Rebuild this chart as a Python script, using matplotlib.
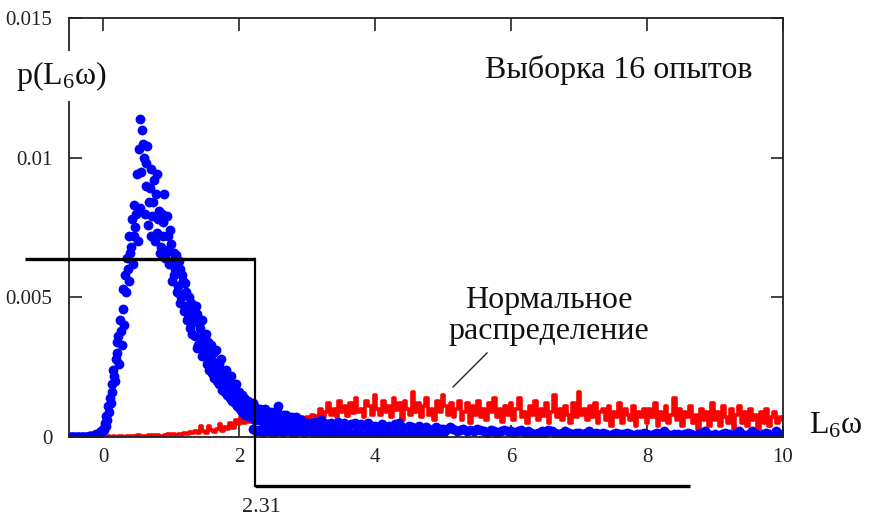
import numpy as np
import matplotlib
matplotlib.use('Agg')
import matplotlib.pyplot as plt

# ---------------- data (values in units of 1e-3) ----------------
blue_head_x0, blue_head_step = -0.5, 0.025
blue_head = [
    0, 0, 0, 0, 0, 0, 0, 0, 0, 0, 0, 0, 0.02, 0.03, 0.05, 0.07, 0.1, 0.12, 0.18, 0.22,
    0.3, 0.5, 0.75, 1.1, 1.4, 1.9, 2.4, 2.0, 3.0, 3.6, 4.2, 3.3, 5.3, 5.8, 6.4, 7.2, 6.6, 7.8, 8.3, 7.5,
    9.4, 10.3, 11.4, 11.0, 10.0, 9.0, 10.4, 8.4, 9.6, 7.9, 9.2, 8.7, 7.3, 8.1, 6.8, 7.7, 8.7, 6.6, 7.2, 6.2,
    6.9, 6.3, 5.8, 6.5, 5.4, 6.0, 5.0, 5.6, 4.7, 5.2, 4.4, 3.9, 4.8, 4.1, 3.6, 4.4, 3.3, 3.9, 2.9, 3.6,
    3.2, 2.6, 3.4, 2.8, 2.3, 3.0, 2.5, 2.0, 2.6, 2.2, 1.7, 2.3, 1.9, 1.5, 2.0, 1.6, 1.3, 1.8, 1.4, 1.1,
    1.6, 1.2, 0.9, 1.4, 1.0, 0.8, 1.2, 0.9, 0.7, 1.1, 0.8, 1.0, 0.6, 0.9, 0.7, 1.0, 0.6, 0.8, 0.7, 0.9,
    0.6, 0.8, 0.5, 1.1, 0.7, 0.6, 0.8, 0.5, 0.7, 0.6, 0.5, 0.7, 0.6, 0.5, 0.6, 0.4, 0.6, 0.5, 0.4, 0.5,
]
blue_head2_x0, blue_head2_step = -0.4875, 0.025
blue_head2 = [
    0, 0, 0, 0, 0, 0, 0, 0, 0, 0, 0, 0.01, 0.02, 0.03, 0.04, 0.06, 0.08, 0.1, 0.14, 0.2,
    0.25, 0.4, 0.6, 0.9, 1.2, 1.6, 2.2, 2.8, 3.4, 2.6, 3.8, 4.6, 4.0, 5.2, 6.0, 5.6, 6.8, 6.2, 7.2, 8.0,
    7.0, 8.2, 9.5, 10.5, 8.0, 9.8, 7.6, 8.9, 7.2, 8.4, 7.0, 9.4, 7.8, 6.6, 8.0, 7.2, 6.4, 7.9, 6.7, 7.4,
    5.6, 6.6, 6.0, 5.2, 6.3, 4.8, 5.8, 4.5, 5.5, 4.2, 5.0, 4.6, 3.7, 4.3, 4.7, 3.2, 4.1, 3.5, 4.2, 3.0,
    3.7, 2.9, 2.4, 3.3, 2.7, 2.1, 3.1, 2.4, 1.9, 2.8, 2.0, 1.6, 2.4, 1.8, 1.4, 2.2, 1.7, 1.2, 1.9, 1.5,
    1.0, 1.5, 1.3, 0.8, 1.1, 1.3, 0.7, 1.0, 1.2, 0.6, 0.9, 0.7, 1.0, 0.8, 0.5, 0.9, 0.7, 0.5, 0.8, 0.6,
    0.7, 0.5, 0.9, 0.6, 0.4, 0.7, 0.6, 0.8, 0.5, 0.7, 0.4, 0.6, 0.5, 0.7, 0.4, 0.5, 0.6, 0.4, 0.5, 0.4,
]
blue_tail_x0, blue_tail_step = 3.0, 0.05
blue_tail = [
    0.5, 0.45, 0.55, 0.4, 0.6, 0.5, 0.45, 0.5, 0.4, 0.55, 0.45, 0.5, 0.4, 0.45, 0.5, 0.35, 0.45, 0.4, 0.5, 0.4,
    0.4, 0.35, 0.45, 0.3, 0.4, 0.35, 0.45, 0.5, 0.35, 0.3, 0.4, 0.35, 0.3, 0.4, 0.3, 0.35, 0.25, 0.3, 0.35, 0.3,
    0.3, 0.25, 0.35, 0.3, 0.2, 0.25, 0.3, 0.2, 0.25, 0.2, 0.3, 0.25, 0.2, 0.15, 0.25, 0.2, 0.15, 0.2, 0.25, 0.2,
    0.2, 0.15, 0.2, 0.25, 0.15, 0.2, 0.15, 0.1, 0.15, 0.2, 0.15, 0.25, 0.2, 0.15, 0.1, 0.15, 0.2, 0.15, 0.1, 0.15,
    0.15, 0.1, 0.15, 0.2, 0.1, 0.15, 0.1, 0.15, 0.1, 0.05, 0.1, 0.15, 0.1, 0.1, 0.15, 0.1, 0.05, 0.1, 0.1, 0.15,
    0.1, 0.05, 0.1, 0.15, 0.1, 0.2, 0.1, 0.05, 0.1, 0.1, 0.05, 0.1, 0.15, 0.1, 0.05, 0.1, 0.15, 0.2, 0.1, 0.05,
    0.1, 0.05, 0.1, 0.15, 0.1, 0.05, 0.1, 0.2, 0.1, 0.05, 0.1, 0.2, 0.1, 0.05, 0.1, 0.15, 0.1, 0.05, 0.2, 0.1,
    0.1,
]
blue_low_x0, blue_low_step = 2.2, 0.05
blue_low = [
    0.3, 0.2, 0.25, 0.15, 0.3, 0.2, 0.1, 0.25, 0.2, 0.15, 0.3, 0.2, 0.1, 0.2, 0.25, 0.15, 0.2,
    0.2, 0.1, 0.15, 0.2, 0.1, 0.15, 0.2, 0.1, 0.15, 0.1, 0.2, 0.15, 0.1, 0.15, 0.1, 0.2, 0.1, 0.15, 0.1, 0.05,
    0.15, 0.1, 0.15, 0.1, 0.05, 0.1, 0.15, 0.1, 0.05, 0.1, 0.1, 0.15, 0.05, 0.1, 0.1, 0.05, 0.1, 0.15, 0.1, 0.05,
]
red_x0, red_step = 0.0, 0.04
red_vals = [
    0, 0, 0.02, 0, 0.03, 0, 0.02, 0.04, 0, 0.03, 0.05, 0.02, 0.04, 0.06, 0.03, 0.05, 0.02, 0.07, 0.04, 0.06, 0.08, 0.05, 0.03, 0.07, 0.09,
    0.06, 0.1, 0.08, 0.12, 0.07, 0.15, 0.1, 0.18, 0.13, 0.22, 0.16, 0.4, 0.2, 0.14, 0.38, 0.25, 0.18, 0.3, 0.45, 0.22, 0.35, 0.28, 0.5, 0.32, 0.6,
    0.45, 0.7, 0.5, 0.85, 0.55, 0.75, 0.6, 0.9, 0.65, 0.55, 0.8, 0.6, 0.7, 0.5, 0.75, 0.65, 0.55, 0.7, 0.6, 0.8, 0.65, 0.75, 0.6, 0.7, 0.65,
    0.7, 0.6, 0.8, 0.75, 0.65, 1.0, 0.7, 0.9, 1.2, 0.8, 1.0, 0.7, 1.3, 0.9, 1.1, 0.75, 1.2, 0.85, 1.4, 0.9, 1.0, 0.7, 1.3, 1.1, 0.8,
    1.5, 1.0, 0.8, 1.3, 0.9, 1.1, 0.7, 1.4, 0.95, 1.2, 0.6, 1.3, 1.0, 0.8, 1.6, 0.9, 1.2, 0.7, 1.1, 1.4, 0.8, 1.0, 0.6, 1.3, 0.9,
    1.5, 1.1, 0.8, 1.2, 0.7, 1.0, 1.3, 0.6, 0.9, 1.2, 0.5, 1.1, 0.8, 1.3, 0.7, 1.0, 0.6, 1.2, 0.9, 1.4, 0.7, 1.0, 0.55, 1.1, 0.8,
    1.2, 0.6, 1.0, 1.4, 0.7, 0.9, 0.5, 1.1, 0.8, 1.3, 0.6, 1.0, 0.75, 1.2, 0.5, 0.9, 1.5, 0.7, 1.0, 0.6, 1.1, 0.8, 0.5, 1.2, 0.7,
    1.6, 0.8, 1.0, 0.6, 1.1, 0.7, 1.2, 0.5, 0.9, 1.0, 0.6, 1.1, 0.4, 0.9, 0.7, 1.2, 0.5, 1.0, 0.8, 0.6, 1.1, 0.4, 0.9, 0.7, 1.0,
    0.5, 1.0, 0.7, 1.2, 0.4, 0.9, 0.6, 1.1, 0.5, 0.8, 1.4, 0.6, 1.0, 0.4, 0.9, 0.7, 1.1, 0.5, 0.8, 0.3, 1.0, 0.6, 0.9, 0.4, 1.2,
    0.6, 0.9, 0.4, 1.1, 0.7, 0.5, 1.0, 0.3, 0.8, 1.1, 0.5, 0.9, 0.4, 1.0, 0.6, 0.8, 0.3, 0.9, 0.5, 1.0, 0.4, 0.7, 0.9, 0.5, 0.7,
    0.6,
]
scale = 1e-3

x_ticks = [0, 2, 4, 6, 8, 10]
x_ticklabels = ['0', '2', '4', '6', '8', '10']
y_ticks = [0, 0.005, 0.01, 0.015]
y_ticklabels = ['0', '0.005', '0.01', '0.015']

# annotation bracket (data coords)
bracket_level = 0.00637
bracket_left = -1.15
threshold_x = 2.235
bracket_low = -0.00175
bracket_right = 8.63
threshold_label = '2.31'

title_text = 'Выборка 16 опытов'
normal_text = 'Нормальное\nраспределение'

# ---------------- figure ----------------
plt.rcParams['font.family'] = ['Liberation Serif', 'DejaVu Serif']
plt.rcParams['mathtext.fontset'] = 'custom'
plt.rcParams['mathtext.rm'] = 'Liberation Serif'
plt.rcParams['mathtext.it'] = 'Liberation Serif:italic'
plt.rcParams['mathtext.default'] = 'rm'

W, H = 870, 518
fig = plt.figure(figsize=(W / 100, H / 100), dpi=100)
ax = fig.add_axes([69 / W, 1 - 437 / H, (783 - 69) / W, (437 - 18) / H])

def grid(x0, step, vals):
    return x0 + step * np.arange(len(vals))

rx = grid(red_x0, red_step, red_vals)
ax.step(rx, np.array(red_vals) * scale, where='mid', color='#ff0000', lw=2.6, zorder=2)

for x0, st, vals in [(blue_head_x0, blue_head_step, blue_head),
                     (blue_head2_x0, blue_head2_step, blue_head2),
                     (blue_tail_x0, blue_tail_step, blue_tail),
                     (blue_low_x0, blue_low_step, blue_low)]:
    ax.scatter(grid(x0, st, vals), np.array(vals) * scale, s=50, color='#0000ff',
               linewidths=0, zorder=3)

ax.set_xlim(-0.5, 10)
ax.set_ylim(0, 0.015)
ax.set_xticks(x_ticks)
ax.set_xticklabels(x_ticklabels)
ax.set_yticks(y_ticks)
ax.set_yticklabels(y_ticklabels)
ax.tick_params(direction='in', length=9, width=1.2, top=True, right=True,
               labelsize=15, colors='#222222')
ax.tick_params(axis='x', pad=8)
ax.tick_params(axis='y', pad=12)
for s in ax.spines.values():
    s.set_linewidth(1.3)
    s.set_color('#222222')
    s.set_zorder(5)

# bracket lines
ax.plot([bracket_left, threshold_x], [bracket_level, bracket_level], color='black',
        lw=2.4, clip_on=False, zorder=6, solid_capstyle='butt')
ax.plot([threshold_x, threshold_x], [bracket_level, bracket_low], color='black',
        lw=1.6, clip_on=False, zorder=6)
ax.plot([threshold_x, bracket_right], [bracket_low, bracket_low], color='black',
        lw=2.4, clip_on=False, zorder=6, solid_capstyle='butt')
fig.text(261 / W, 1 - 508 / H, threshold_label, ha='center', va='center',
         fontsize=16, color='#222222')

# texts
fig.text(61 / W, 1 - 76 / H, 'p(L$_{6}$ω)', ha='center', va='center', fontsize=23,
         color='#111111', zorder=10,
         bbox=dict(facecolor='white', edgecolor='none', pad=6))
fig.text(619 / W, 1 - 70 / H, title_text, ha='center', va='center', fontsize=23,
         color='#111111')
fig.text(549 / W, 1 - 316 / H, normal_text, ha='center', va='center', fontsize=23,
         color='#111111', linespacing=1.1)
fig.text(836 / W, 1 - 426 / H, 'L$_{6}$ω', ha='center', va='center', fontsize=23,
         color='#111111')
fig.add_artist(plt.Line2D([453 / W, 487 / W], [1 - 387 / H, 1 - 353 / H],
                          color='#222222', lw=1.0))

fig.savefig('out.png', dpi=100)
